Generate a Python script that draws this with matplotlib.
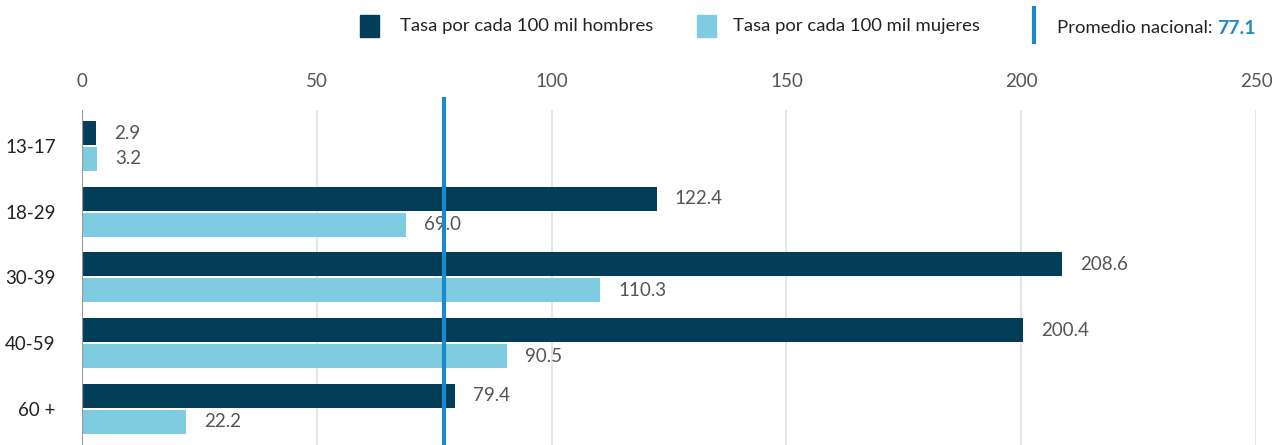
import matplotlib
matplotlib.use("Agg")
import matplotlib.pyplot as plt
import numpy as np

categories = ["13-17", "18-29", "30-39", "40-59", "60 +"]
hombres = [2.9, 122.4, 208.6, 200.4, 79.4]
mujeres = [3.2, 69.0, 110.3, 90.5, 22.2]
promedio = 77.1
xticks = [0, 50, 100, 150, 200, 250]

DARK = "#023e58"
LIGHT = "#7fcce0"
BLUE = "#1f88c8"
TXT = "#555555"

plt.rcParams['font.family'] = ['Lato', 'DejaVu Sans']

W, H = 1272, 445
fig = plt.figure(figsize=(W/100, H/100), dpi=100)
ax = fig.add_axes([82/W, 0, (1256-82)/W, 1-97/H])

y = np.arange(len(categories))
bh = 0.365
off = 0.197
ax.barh(y - off, hombres, height=bh, color=DARK, zorder=3)
ax.barh(y + off, mujeres, height=bh, color=LIGHT, zorder=3)

for yi, v in zip(y, hombres):
    ax.annotate(f"{v:.1f}", (v, yi - off), xytext=(13, 0), textcoords="offset points",
                va="center", ha="left", fontsize=13.5, color=TXT, zorder=5)
for yi, v in zip(y, mujeres):
    ax.annotate(f"{v:.1f}", (v, yi + off), xytext=(13, 0), textcoords="offset points",
                va="center", ha="left", fontsize=13.5, color=TXT, zorder=5)

ax.set_xlim(0, 250)
ax.set_ylim(4.55, -0.745)

# gridlines
for t in xticks[1:]:
    ax.vlines(t, 4.55, -0.55, color="#e2e2e2", lw=1.2, zorder=1)
ax.vlines(0, 4.55, -0.55, color="#999999", lw=1.5, zorder=4)
ax.axvline(promedio, color=BLUE, lw=3, zorder=6)

for s in ax.spines.values():
    s.set_visible(False)
ax.xaxis.tick_top()
ax.set_xticks(xticks)
ax.set_xticklabels([str(t) for t in xticks], fontsize=13.5, color=TXT)
ax.tick_params(axis="x", length=0, pad=5)
ax.set_yticks(y)
ax.set_yticklabels(categories, fontsize=13.5, color="#222222")
ax.tick_params(axis="y", length=0, pad=19)

# legend
fig.patches.append(plt.Rectangle((360/W, 1-37/H), 19/W, 22/H, transform=fig.transFigure, color=DARK))
fig.text(400/W, 1-26/H, "Tasa por cada 100 mil hombres", fontsize=13.3, color="#222222", va="center")
fig.patches.append(plt.Rectangle((697/W, 1-37/H), 19/W, 22/H, transform=fig.transFigure, color=LIGHT))
fig.text(733/W, 1-26/H, "Tasa por cada 100 mil mujeres", fontsize=13.3, color="#222222", va="center")
fig.add_artist(plt.Line2D([1034/W, 1034/W], [1-8/H, 1-42/H], transform=fig.transFigure, color=BLUE, lw=3))
t1 = fig.text(1057/W, 1-28/H, "Promedio nacional: ", fontsize=13.3, color="#222222", va="center")
fig.canvas.draw()
bb = t1.get_window_extent()
fig.text(bb.x1/W, 1-28/H, f"{promedio}", fontsize=14, color=BLUE, fontweight="bold", va="center")

fig.savefig("out.png", dpi=100)
